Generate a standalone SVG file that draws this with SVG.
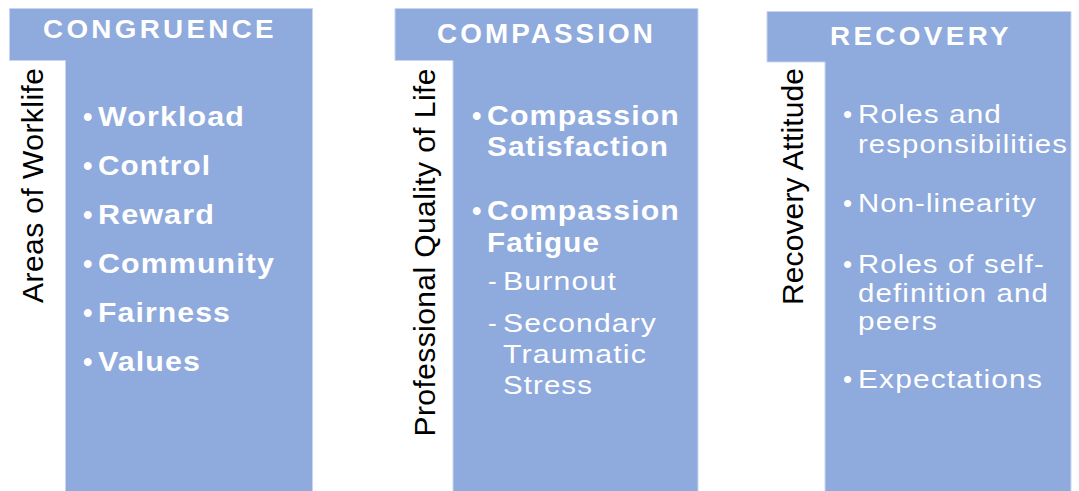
<svg xmlns="http://www.w3.org/2000/svg" width="1079" height="491" viewBox="0 0 1079 491">
  <style>
    .panel { fill: #8FAADC; stroke: #C9D5EE; stroke-width: 1; }
    .head { font-family: "Liberation Sans", Arial, sans-serif; font-weight: bold; fill: #FFFFFF; text-anchor: middle; letter-spacing: 3px; }
    .item { font-family: "Liberation Sans", Arial, sans-serif; font-size: 26px; fill: #FFFFFF; }
    .item tspan, .item text { letter-spacing: 1px; }
    .bold { font-weight: bold; font-size: 27px; }
    .side { font-family: "Liberation Sans", Arial, sans-serif; font-size: 30px; fill: #000000; }
  </style>
  <rect width="1079" height="491" fill="#FFFFFF"/>

  <!-- Congruence column -->
  <g id="congruence">
    <path class="panel" d="M9.5,8.5 H312.5 V492 H65.5 V60.5 H9.5 Z"/>
    <text class="head" x="160" y="38" font-size="25" textLength="234" lengthAdjust="spacingAndGlyphs">CONGRUENCE</text>
    <text class="side" transform="translate(43,303) rotate(-90)" textLength="235" lengthAdjust="spacing">Areas of Worklife</text>
    <g class="item bold">
      <text x="83" y="126">•<tspan x="98" textLength="147" lengthAdjust="spacingAndGlyphs">Workload</tspan></text>
      <text x="83" y="175">•<tspan x="98" textLength="113" lengthAdjust="spacingAndGlyphs">Control</tspan></text>
      <text x="83" y="224">•<tspan x="98" textLength="117" lengthAdjust="spacingAndGlyphs">Reward</tspan></text>
      <text x="83" y="273">•<tspan x="98" textLength="177" lengthAdjust="spacingAndGlyphs">Community</tspan></text>
      <text x="83" y="322">•<tspan x="98" textLength="133" lengthAdjust="spacingAndGlyphs">Fairness</tspan></text>
      <text x="83" y="371">•<tspan x="98" textLength="103" lengthAdjust="spacingAndGlyphs">Values</tspan></text>
    </g>
  </g>

  <!-- Compassion column -->
  <g id="compassion">
    <path class="panel" d="M395,8.5 H698 V492 H453 V60.5 H395 Z"/>
    <text class="head" x="546.5" y="42.5" font-size="27" textLength="219" lengthAdjust="spacingAndGlyphs">COMPASSION</text>
    <text class="side" transform="translate(435,436.5) rotate(-90)" textLength="368" lengthAdjust="spacing">Professional Quality of Life</text>
    <g class="item bold">
      <text x="472" y="125">•<tspan x="487" textLength="193" lengthAdjust="spacingAndGlyphs">Compassion</tspan></text>
      <text x="487" y="156" textLength="182" lengthAdjust="spacingAndGlyphs">Satisfaction</text>
      <text x="472" y="220">•<tspan x="487" textLength="193" lengthAdjust="spacingAndGlyphs">Compassion</tspan></text>
      <text x="487" y="252" textLength="113" lengthAdjust="spacingAndGlyphs">Fatigue</text>
    </g>
    <g class="item">
      <text x="488" y="290">-<tspan x="503" textLength="114" lengthAdjust="spacingAndGlyphs">Burnout</tspan></text>
      <text x="488" y="332">-<tspan x="503" textLength="154" lengthAdjust="spacingAndGlyphs">Secondary</tspan></text>
      <text x="503" y="363" textLength="144" lengthAdjust="spacingAndGlyphs">Traumatic</text>
      <text x="503" y="394" textLength="90" lengthAdjust="spacingAndGlyphs">Stress</text>
    </g>
  </g>

  <!-- Recovery column -->
  <g id="recovery">
    <path class="panel" d="M767,11.5 H1071 V492 H825 V62 H767 Z"/>
    <text class="head" x="921" y="45" font-size="25" textLength="182" lengthAdjust="spacingAndGlyphs">RECOVERY</text>
    <text class="side" transform="translate(803,305) rotate(-90)" textLength="237" lengthAdjust="spacing">Recovery Attitude</text>
    <g class="item">
      <text x="843" y="123">•<tspan x="858" textLength="144" lengthAdjust="spacingAndGlyphs">Roles and</tspan></text>
      <text x="858" y="153" textLength="210" lengthAdjust="spacingAndGlyphs">responsibilities</text>
      <text x="843" y="212">•<tspan x="858" textLength="179" lengthAdjust="spacingAndGlyphs">Non-linearity</tspan></text>
      <text x="843" y="273">•<tspan x="858" textLength="187" lengthAdjust="spacingAndGlyphs">Roles of self-</tspan></text>
      <text x="858" y="302" textLength="191" lengthAdjust="spacingAndGlyphs">definition and</text>
      <text x="858" y="330" textLength="80" lengthAdjust="spacingAndGlyphs">peers</text>
      <text x="843" y="388">•<tspan x="858" textLength="185" lengthAdjust="spacingAndGlyphs">Expectations</tspan></text>
    </g>
  </g>
</svg>
